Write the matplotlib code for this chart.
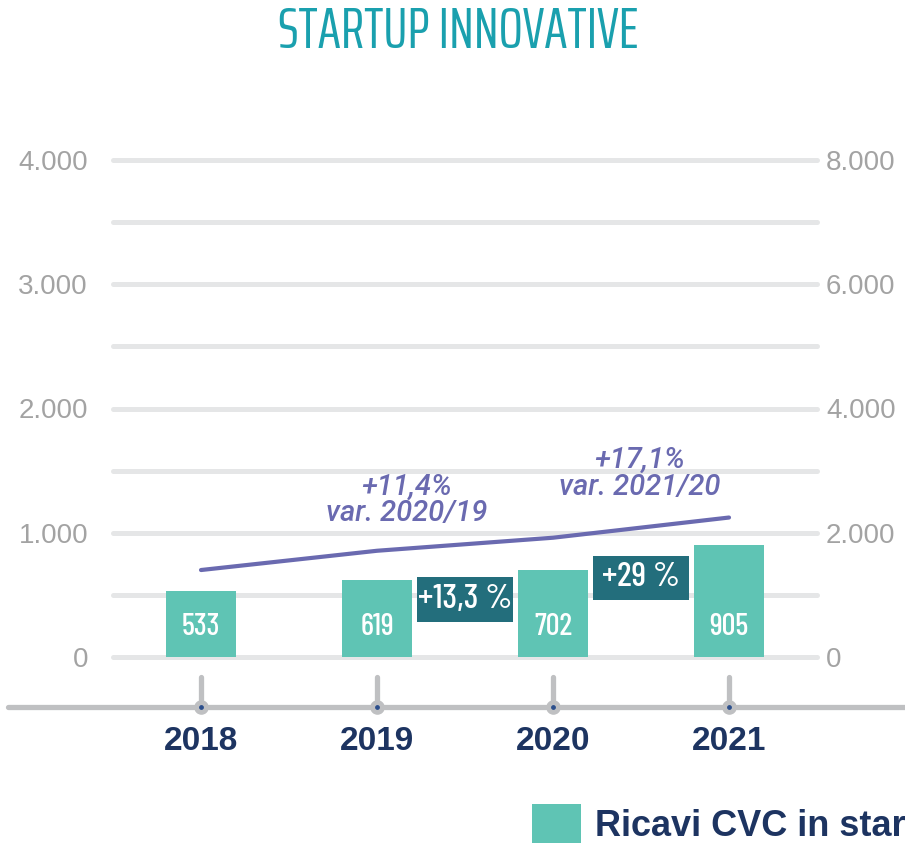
import matplotlib
matplotlib.use("Agg")
import matplotlib.pyplot as plt
import matplotlib.transforms as mtransforms
from matplotlib.patches import Rectangle
from matplotlib.ticker import FuncFormatter

# data
years = ["2018", "2019", "2020", "2021"]
ricavi = [533, 619, 702, 905]            # bars, left axis
linea = [1400, 1710, 1920, 2245]         # line, right axis
var_bar = ["+13,3 %", "+29 %"]           # between 2019/20 and 2020/21
var_line = ["+11,4%\nvar. 2020/19", "+17,1%\nvar. 2021/20"]

TEAL = "#5fc4b4"
DARK = "#236e7c"
PURPLE = "#6a6ab0"
NAVY = "#1d3461"
GREY_TXT = "#a3a3a3"
GRID = "#e5e6e7"
AXIS = "#bfc0c2"
COND = "Barlow Condensed"


def dotted(v, pos=None):
    return "{:,.0f}".format(v).replace(",", ".")


W, H = 905, 851
fig = plt.figure(figsize=(W / 100, H / 100), dpi=100)
ax = fig.add_axes([113 / W, 1 - 657 / H, 704 / W, 497 / H])
ax.set_xlim(-0.5, 3.5)
ax.set_ylim(0, 4000)
for s in ax.spines.values():
    s.set_visible(False)

x = list(range(len(years)))

# grid every 500
for v in range(0, 4001, 500):
    ax.plot([-0.5, 3.5], [v, v], color=GRID, lw=3.6, solid_capstyle="round",
            zorder=0, clip_on=False)

bars = ax.bar(x, ricavi, width=0.40, color=TEAL, zorder=2,
              label="Ricavi CVC in startup innovative")
for xi, v in zip(x, ricavi):
    ax.text(xi, 240, str(v), ha="center", va="center", color="white",
            fontsize=22, family=COND, fontweight="medium", zorder=3)

# change boxes between bars
box_y = [463, 636]
box_w, box_h = 0.54, 360
for i, (lab, by) in enumerate(zip(var_bar, box_y)):
    bx = x[i + 1] + 0.5
    ax.add_patch(Rectangle((bx - box_w / 2, by - box_h / 2), box_w, box_h,
                           fc=DARK, ec="none", zorder=4))
    ax.text(bx, by, lab, ha="center", va="center", color="white",
            fontsize=25, family=COND, fontweight="medium", zorder=5)

# y axes
ax.set_yticks(range(0, 4001, 1000))
ax.yaxis.set_major_formatter(FuncFormatter(dotted))
ax.tick_params(axis="y", length=0, pad=18, labelsize=20, labelcolor=GREY_TXT)
for t in ax.get_yticklabels():
    t.set_family("Liberation Sans")

ax2 = ax.twinx()
ax2.set_ylim(0, 8000)
for s in ax2.spines.values():
    s.set_visible(False)
ax2.set_yticks(range(0, 8001, 2000))
ax2.yaxis.set_major_formatter(FuncFormatter(dotted))
ax2.tick_params(axis="y", length=0, pad=6.5, labelsize=20, labelcolor=GREY_TXT)
for t in ax2.get_yticklabels():
    t.set_family("Liberation Sans")

ax2.plot(x, linea, color=PURPLE, lw=3, solid_capstyle="round", zorder=5)
ann_xy = [(1.17, 2530), (2.49, 2960)]
for lab, (ax_, ay) in zip(var_line, ann_xy):
    ax2.text(ax_, ay, lab, ha="center", va="center", color=PURPLE,
             fontsize=21, style="italic", fontweight="medium", family="Roboto",
             linespacing=0.95)

# bottom axis with stubs
blend = mtransforms.blended_transform_factory(fig.transFigure, ax.transData)
ax.plot([8 / W, 1], [-403, -403], color=AXIS, lw=3.8, transform=blend,
        clip_on=False, solid_capstyle="round")
ax.vlines(x, -403, -161, color=AXIS, lw=3.8, clip_on=False, capstyle="round")
ax.scatter(x, [-403] * 4, s=90, color=AXIS, clip_on=False, zorder=6)
ax.scatter(x, [-403] * 4, s=6, color="#2c4f8c", clip_on=False, zorder=7)

ax.set_xticks(x)
ax.set_xticklabels(years)
ax.tick_params(axis="x", length=0, pad=50, labelsize=24, labelcolor=NAVY)
for t in ax.get_xticklabels():
    t.set_family("Liberation Sans")
    t.set_fontweight("bold")

fig.text(458 / W, 1 - 32 / H, "STARTUP INNOVATIVE", ha="center", va="center",
         color="#1aa0ae", fontsize=41, family="Saira ExtraCondensed",
         fontweight="normal")

# legend runs off the right edge, as in the reference
fig.legend(handles=[bars], loc="upper left", bbox_to_anchor=(532 / W, 1 - 804 / H),
           frameon=False, borderpad=0, borderaxespad=0, handlelength=1.36,
           handleheight=1.3, handletextpad=0.39,
           prop=dict(family="Liberation Sans", weight="bold", size=26),
           labelcolor=NAVY)

fig.savefig("out.png", dpi=100)
